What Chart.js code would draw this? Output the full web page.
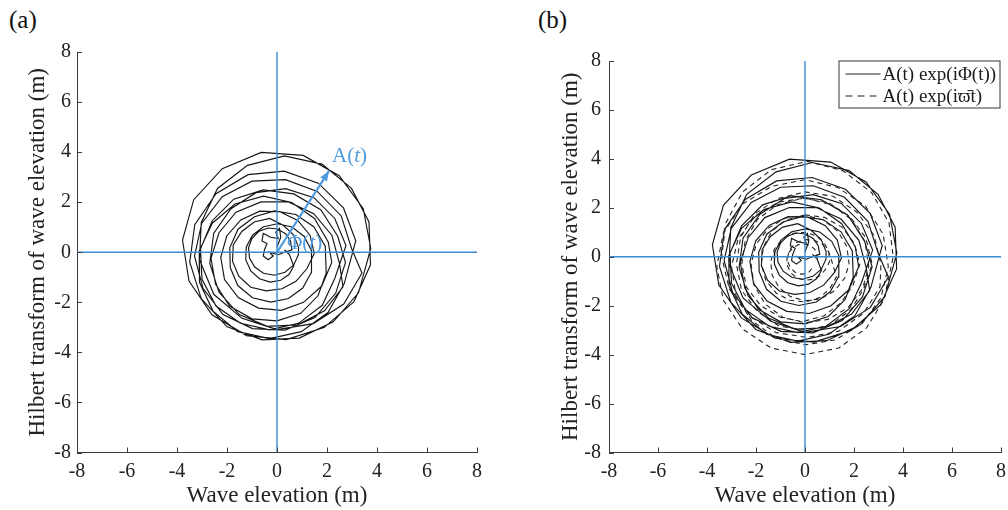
<!DOCTYPE html>
<html><head><meta charset="utf-8">
<script src="https://cdn.jsdelivr.net/npm/chart.js@4.4.1/dist/chart.umd.min.js"></script>
<style>
html,body{margin:0;padding:0;background:#fff;}
body{width:1008px;height:510px;overflow:hidden;position:relative;font-family:"Liberation Serif","Times New Roman",serif;}
canvas{position:absolute;top:0;}
#ca{left:0;}
#cb{left:500px;}
.lab{position:absolute;font-size:25px;color:#111;line-height:1;}
</style></head>
<body>
<div class="lab" style="left:9px;top:7px">(a)</div>
<div class="lab" style="left:538px;top:7px">(b)</div>
<canvas id="ca" width="500" height="510"></canvas>
<canvas id="cb" width="514" height="510"></canvas>
<script>
// ---------- data ----------
const tickValues = [-8,-6,-4,-2,0,2,4,6,8];
const axisSpan = [-8, 8];
const axisZero = [0, 0];

// analytic signal A(t) exp(iΦ(t)) : wave elevation vs Hilbert transform
const solidElev = [
 0.0,0.15,0.1,-0.05,0.05,-0.25,-0.55,-0.6,-0.4,-0.5,-0.55,-0.35,-0.15,-0.3,0.05,0.3,
 0.6,0.54,0.34,0.02,-0.35,-0.72,-1.0,-1.14,-1.1,-0.89,-0.54,-0.11,0.32,0.67,0.86,
 0.86,0.66,0.25,-0.3,-0.91,-1.41,-1.75,-1.78,-1.53,-1.05,-0.43,0.2,0.76,1.2,
 1.49,1.32,0.83,0.12,-0.69,-1.45,-2.01,-2.25,-2.1,-1.55,-0.74,0.17,1.06,1.79,2.19,
 2.05,1.5,0.59,-0.54,-1.68,-2.59,-3.11,-3.1,-2.56,-1.57,-0.3,0.97,2.04,2.69,
 3.15,2.66,1.65,0.29,-1.16,-2.44,-3.29,-3.49,-3.03,-2.01,-0.6,0.89,2.25,3.26,
 3.75,3.45,2.49,1.05,-0.63,-2.19,-3.33,-3.78,-3.52,-2.6,-1.22,0.37,1.88,3.08,3.74,
 3.68,2.98,1.8,0.3,-1.18,-2.38,-3.03,-3.1,-2.53,-1.4,0,1.45,2.67,3.4,
 2.99,2.57,1.61,0.34,-1.0,-2.19,-3.01,-3.3,-2.96,-2.16,-0.98,0.32,1.52,2.35,2.74,
 2.43,1.75,0.67,-0.55,-1.73,-2.59,-3.06,-3.0,-2.44,-1.46,-0.3,0.86,1.81,2.31,
 2.76,2.31,1.48,0.34,-0.84,-1.84,-2.53,-2.69,-2.32,-1.51,-0.39,0.83,1.9,2.64,
 2.5,2.2,1.47,0.46,-0.64,-1.64,-2.32,-2.64,-2.46,-1.9,-1.0,0,0.95,1.64,1.97,
 1.93,1.47,0.75,-0.1,-0.9,-1.56,-1.89,-1.87,-1.57,-0.98,-0.25,0.46,1.03,1.36,
 1.38,1.09,0.6,0.02,-0.54,-0.98,-1.23,-1.25,-1.05,-0.7,-0.27,0.15,0.48,0.67,0.5,0.3
];
const solidHilbert = [
 0.2,0.6,0.95,0.8,0.55,0.6,0.75,0.45,0.35,0.1,-0.15,-0.3,-0.15,0.0,-0.1,0.0,
 0.1,0.45,0.74,0.93,0.97,0.84,0.56,0.18,-0.23,-0.59,-0.84,-0.92,-0.8,-0.51,-0.09,
 0.21,0.7,1.08,1.35,1.21,0.83,0.29,-0.36,-0.96,-1.4,-1.54,-1.46,-1.16,-0.65,
 -0.05,0.68,1.27,1.62,1.64,1.29,0.65,-0.2,-1.09,-1.81,-2.23,-2.32,-2.0,-1.35,-0.41,
 0.41,1.35,1.99,2.24,1.93,1.16,0.05,-1.2,-2.35,-3.17,-3.45,-3.17,-2.41,-1.25,
 0.46,1.77,2.76,3.24,3.1,2.34,1.1,-0.4,-1.85,-2.97,-3.5,-3.43,-2.78,-1.62,
 0.15,1.74,3.06,3.87,3.99,3.34,2.1,0.49,-1.15,-2.5,-3.33,-3.49,-3.01,-1.97,-0.5,
 1.21,2.55,3.52,3.85,3.47,2.55,1.19,-0.3,-1.68,-2.64,-3.09,-2.85,-2.07,-0.83,
 0.13,1.45,2.43,2.9,2.84,2.22,1.16,-0.15,-1.44,-2.49,-3.05,-3.11,-2.61,-1.63,-0.41,
 0.64,1.7,2.33,2.49,2.12,1.26,0.14,-1.08,-2.15,-2.84,-3.1,-2.84,-2.12,-1.05,
 0.27,1.35,2.18,2.54,2.38,1.74,0.76,-0.44,-1.6,-2.49,-2.96,-2.9,-2.34,-1.38,
 -0.45,0.67,1.54,2.01,2.01,1.6,0.78,-0.24,-1.27,-2.15,-2.66,-2.74,-2.44,-1.74,-0.83,
 0.24,1.02,1.51,1.65,1.42,0.92,0.18,-0.61,-1.33,-1.82,-1.99,-1.85,-1.43,-0.83,
 0.06,0.63,1.01,1.14,1.02,0.68,0.21,-0.3,-0.75,-1.06,-1.19,-1.12,-0.89,-0.56,-0.1,0.1
];

// A(t) exp(i ϖ t) : same amplitude, uniform rotation
const dashElev = [
 0.5,0.49,0.4,0.23,0,-0.25,-0.48,-0.66,-0.74,-0.71,-0.57,-0.32,0,0.34,0.65,0.88,
 1.0,0.97,0.78,0.44,0,-0.48,-0.92,-1.25,-1.4,-1.34,-1.06,-0.59,0,0.63,1.2,1.62,
 1.8,1.71,1.34,0.75,0,-0.79,-1.48,-1.99,-2.2,-2.08,-1.63,-0.9,0,0.94,1.77,2.36,
 2.6,2.45,1.91,1.05,0,-1.09,-2.05,-2.73,-3.0,-2.82,-2.19,-1.21,0,1.24,2.33,3.1,
 3.4,3.19,2.47,1.34,0,-1.36,-2.55,-3.33,-3.6,-3.33,-2.55,-1.38,0,1.38,2.51,3.23,
 3.6,3.43,2.72,1.56,0.1,-1.37,-2.55,-3.23,-3.4,-3.09,-2.3,-1.18,0.1,1.36,2.4,3.06,
 3.1,2.82,2.12,1.15,0,-1.11,-2.05,-2.63,-2.8,-2.59,-1.94,-1.05,0,1.03,1.87,2.4,
 2.74,2.48,1.83,0.94,-0.11,-1.12,-1.94,-2.44,-2.58,-2.39,-1.81,-1.01,-0.11,0.77,1.47,1.96,
 2.24,2.02,1.51,0.79,0,-0.75,-1.35,-1.7,-1.78,-1.6,-1.18,-0.62,0,0.58,1.01,1.28,
 1.1,0.97,0.71,0.36,0,-0.33,-0.57,-0.69,-0.7,-0.6,-0.42,-0.21,0,0.17,0.28
];
const dashHilbert = [
 -0.1,0.1,0.3,0.45,0.52,0.5,0.38,0.17,-0.1,-0.39,-0.67,-0.87,-0.96,-0.92,-0.75,-0.46,
 -0.2,0.2,0.58,0.86,1.0,0.96,0.72,0.32,-0.2,-0.76,-1.26,-1.63,-1.8,-1.72,-1.4,-0.87,
 -0.3,0.41,1.04,1.5,1.7,1.59,1.18,0.52,-0.3,-1.16,-1.93,-2.47,-2.7,-2.56,-2.07,-1.28,
 -0.4,0.61,1.51,2.14,2.4,2.23,1.65,0.73,-0.4,-1.57,-2.59,-3.31,-3.6,-3.4,-2.73,-1.68,
 -0.4,0.92,2.07,2.83,3.15,2.88,2.15,0.98,-0.4,-1.78,-2.95,-3.73,-4.0,-3.73,-2.91,-1.74,
 0,1.38,2.62,3.51,3.9,3.56,2.65,1.38,0,-1.32,-2.4,-3.1,-3.3,-3.05,-2.3,-1.23,
 -0.3,0.87,1.82,2.47,2.65,2.38,1.75,0.79,-0.3,-1.37,-2.24,-2.84,-3.0,-2.79,-2.17,-1.3,
 -0.3,0.78,1.64,2.23,2.39,2.13,1.53,0.66,-0.3,-1.24,-2.0,-2.47,-2.65,-2.42,-1.88,-1.16,
 -0.3,0.54,1.21,1.61,1.71,1.51,1.05,0.4,-0.3,-0.96,-1.48,-1.78,-1.85,-1.68,-1.31,-0.83,
 -0.2,0.2,0.51,0.68,0.7,0.59,0.37,0.09,-0.2,-0.45,-0.62,-0.71,-0.7,-0.62,-0.48
];

// amplitude vector A(t) drawn in panel (a)
const arrowElev = [0, 2.08];
const arrowHilbert = [0, 3.25];

const legendLabels = ['A(t) exp(i\u03A6(t))', 'A(t) exp(i\u03D6\u0304t)'];

// ---------- helpers ----------
const SERIF = '"Liberation Serif","Times New Roman",serif';
const TXT = '#222';
const AXIS = '#3c3c3c';
const BLUE = '#3a8ad4';
const BLUE_L = '#4e9ade';

function pts(xs, ys){
  const n = Math.min(xs.length, ys.length), out = [];
  for (let i = 0; i < n; i++) out.push({x: xs[i], y: ys[i]});
  return out;
}

const inwardTicks = {
  id: 'inwardTicks',
  afterDatasetsDraw(chart){
    const {ctx, chartArea: a, scales: {x, y}} = chart;
    ctx.save();
    ctx.strokeStyle = AXIS; ctx.lineWidth = 1;
    ctx.beginPath();
    tickValues.forEach(v => {
      const px = Math.round(x.getPixelForValue(v)) + 0.5;
      ctx.moveTo(px, a.bottom); ctx.lineTo(px, a.bottom - 5);
      const py = Math.round(y.getPixelForValue(v)) + 0.5;
      ctx.moveTo(a.left, py); ctx.lineTo(a.left + 5, py);
    });
    ctx.stroke();
    ctx.restore();
  }
};

const annotA = {
  id: 'annotA',
  afterDatasetsDraw(chart){
    const {ctx, scales: {x, y}} = chart;
    const x0 = x.getPixelForValue(arrowElev[0]), y0 = y.getPixelForValue(arrowHilbert[0]);
    const x1 = x.getPixelForValue(arrowElev[1]), y1 = y.getPixelForValue(arrowHilbert[1]);
    const ang = Math.atan2(y1 - y0, x1 - x0);
    ctx.save();
    ctx.fillStyle = BLUE_L;
    ctx.beginPath();
    ctx.moveTo(x1, y1);
    ctx.lineTo(x1 - 10*Math.cos(ang) + 4*Math.sin(ang), y1 - 10*Math.sin(ang) - 4*Math.cos(ang));
    ctx.lineTo(x1 - 10*Math.cos(ang) - 4*Math.sin(ang), y1 - 10*Math.sin(ang) + 4*Math.cos(ang));
    ctx.closePath(); ctx.fill();
    function rich(parts, px, py){
      let cx = px;
      parts.forEach(([t, it]) => {
        ctx.font = (it ? 'italic ' : '') + '21px ' + SERIF;
        ctx.fillText(t, cx, py);
        cx += ctx.measureText(t).width;
      });
    }
    ctx.textBaseline = 'middle'; ctx.textAlign = 'left';
    rich([['A(', false], ['t', true], [')', false]], x.getPixelForValue(2.2), y.getPixelForValue(3.82));
    rich([['\u03A6(', false], ['t', true], [')', false]], x.getPixelForValue(0.4), y.getPixelForValue(0.36));
    ctx.restore();
  }
};

const legendB = {
  id: 'legendB',
  afterDraw(chart){
    const {ctx, chartArea: a} = chart;
    const w = 161, h = 47;
    const L = a.right - w - 1.5, T = a.top - 0.5;
    ctx.save();
    ctx.fillStyle = '#fff';
    ctx.fillRect(L, T, w, h);
    ctx.strokeStyle = '#555'; ctx.lineWidth = 1.2;
    ctx.strokeRect(L + 0.5, T + 0.5, w, h);
    ctx.strokeStyle = '#222'; ctx.lineWidth = 1.1;
    const r1 = T + 13.5, r2 = T + 35.5;
    ctx.beginPath(); ctx.moveTo(L + 7, r1); ctx.lineTo(L + 42, r1); ctx.stroke();
    ctx.setLineDash([7, 5]);
    ctx.beginPath(); ctx.moveTo(L + 7, r2); ctx.lineTo(L + 42, r2); ctx.stroke();
    ctx.setLineDash([]);
    ctx.fillStyle = '#1a1a1a';
    ctx.font = '19px ' + SERIF;
    ctx.textBaseline = 'middle'; ctx.textAlign = 'left';
    ctx.fillText(legendLabels[0], L + 44, r1 + 1);
    ctx.fillText(legendLabels[1], L + 44, r2 + 1);
    ctx.restore();
  }
};

function scalesCfg(yWidth, yTitlePad, tickPadY){
  return {
    x: {
      type: 'linear', min: -8, max: 8,
      afterBuildTicks: s => { s.ticks = tickValues.map(v => ({value: v})); },
      afterFit: s => { s.height = 57.5; },
      ticks: {autoSkip: false, maxRotation: 0, padding: 7, color: TXT, font: {family: SERIF, size: 20}},
      grid: {display: true, drawOnChartArea: false, drawTicks: false, color: AXIS},
      border: {display: true, color: AXIS, width: 1},
      title: {display: true, text: 'Wave elevation (m)', color: TXT, font: {family: SERIF, size: 23}, padding: {top: 0, bottom: 0}}
    },
    y: {
      type: 'linear', min: -8, max: 8,
      afterBuildTicks: s => { s.ticks = tickValues.map(v => ({value: v})); },
      afterFit: s => { s.width = yWidth; },
      ticks: {autoSkip: false, padding: tickPadY, color: TXT, font: {family: SERIF, size: 20}},
      grid: {display: true, drawOnChartArea: false, drawTicks: false, color: AXIS},
      border: {display: true, color: AXIS, width: 1},
      title: {display: true, text: 'Hilbert transform of wave elevation (m)', color: TXT, font: {family: SERIF, size: 23}, padding: {top: yTitlePad, bottom: 0}}
    }
  };
}

function baseDatasets(){
  return [
    {data: pts(axisSpan, axisZero), borderColor: BLUE, borderWidth: 1.4, order: 0},
    {data: pts(axisZero, axisSpan), borderColor: BLUE, borderWidth: 1.4, order: 0},
    {data: pts(solidElev, solidHilbert), borderColor: '#161616', borderWidth: 1.15, order: 2}
  ];
}

const common = {
  responsive: false, animation: false, devicePixelRatio: 1,
  plugins: {legend: {display: false}, tooltip: {enabled: false}},
  elements: {point: {radius: 0}, line: {tension: 0, fill: false}},
  datasets: {scatter: {showLine: true, pointRadius: 0}}
};

// Panel (a)
const dsA = baseDatasets();
dsA.push({data: pts(arrowElev, arrowHilbert), borderColor: BLUE_L, borderWidth: 2.2, order: 0});
new Chart(document.getElementById('ca'), {
  type: 'scatter',
  data: {datasets: dsA},
  options: Object.assign({}, common, {
    layout: {padding: {left: 0, right: 23, top: 52, bottom: 0}},
    scales: scalesCfg(77, 24, 6)
  }),
  plugins: [inwardTicks, annotA]
});

// Panel (b)
const dsB = baseDatasets();
dsB.push({data: pts(dashElev, dashHilbert), borderColor: '#222', borderWidth: 1.1, borderDash: [5, 4], order: 1});
new Chart(document.getElementById('cb'), {
  type: 'scatter',
  data: {datasets: dsB},
  options: Object.assign({}, common, {
    layout: {padding: {left: 0, right: 13, top: 61, bottom: 0}},
    scales: scalesCfg(109, 57, 8)
  }),
  plugins: [inwardTicks, legendB]
});
</script>
</body></html>
